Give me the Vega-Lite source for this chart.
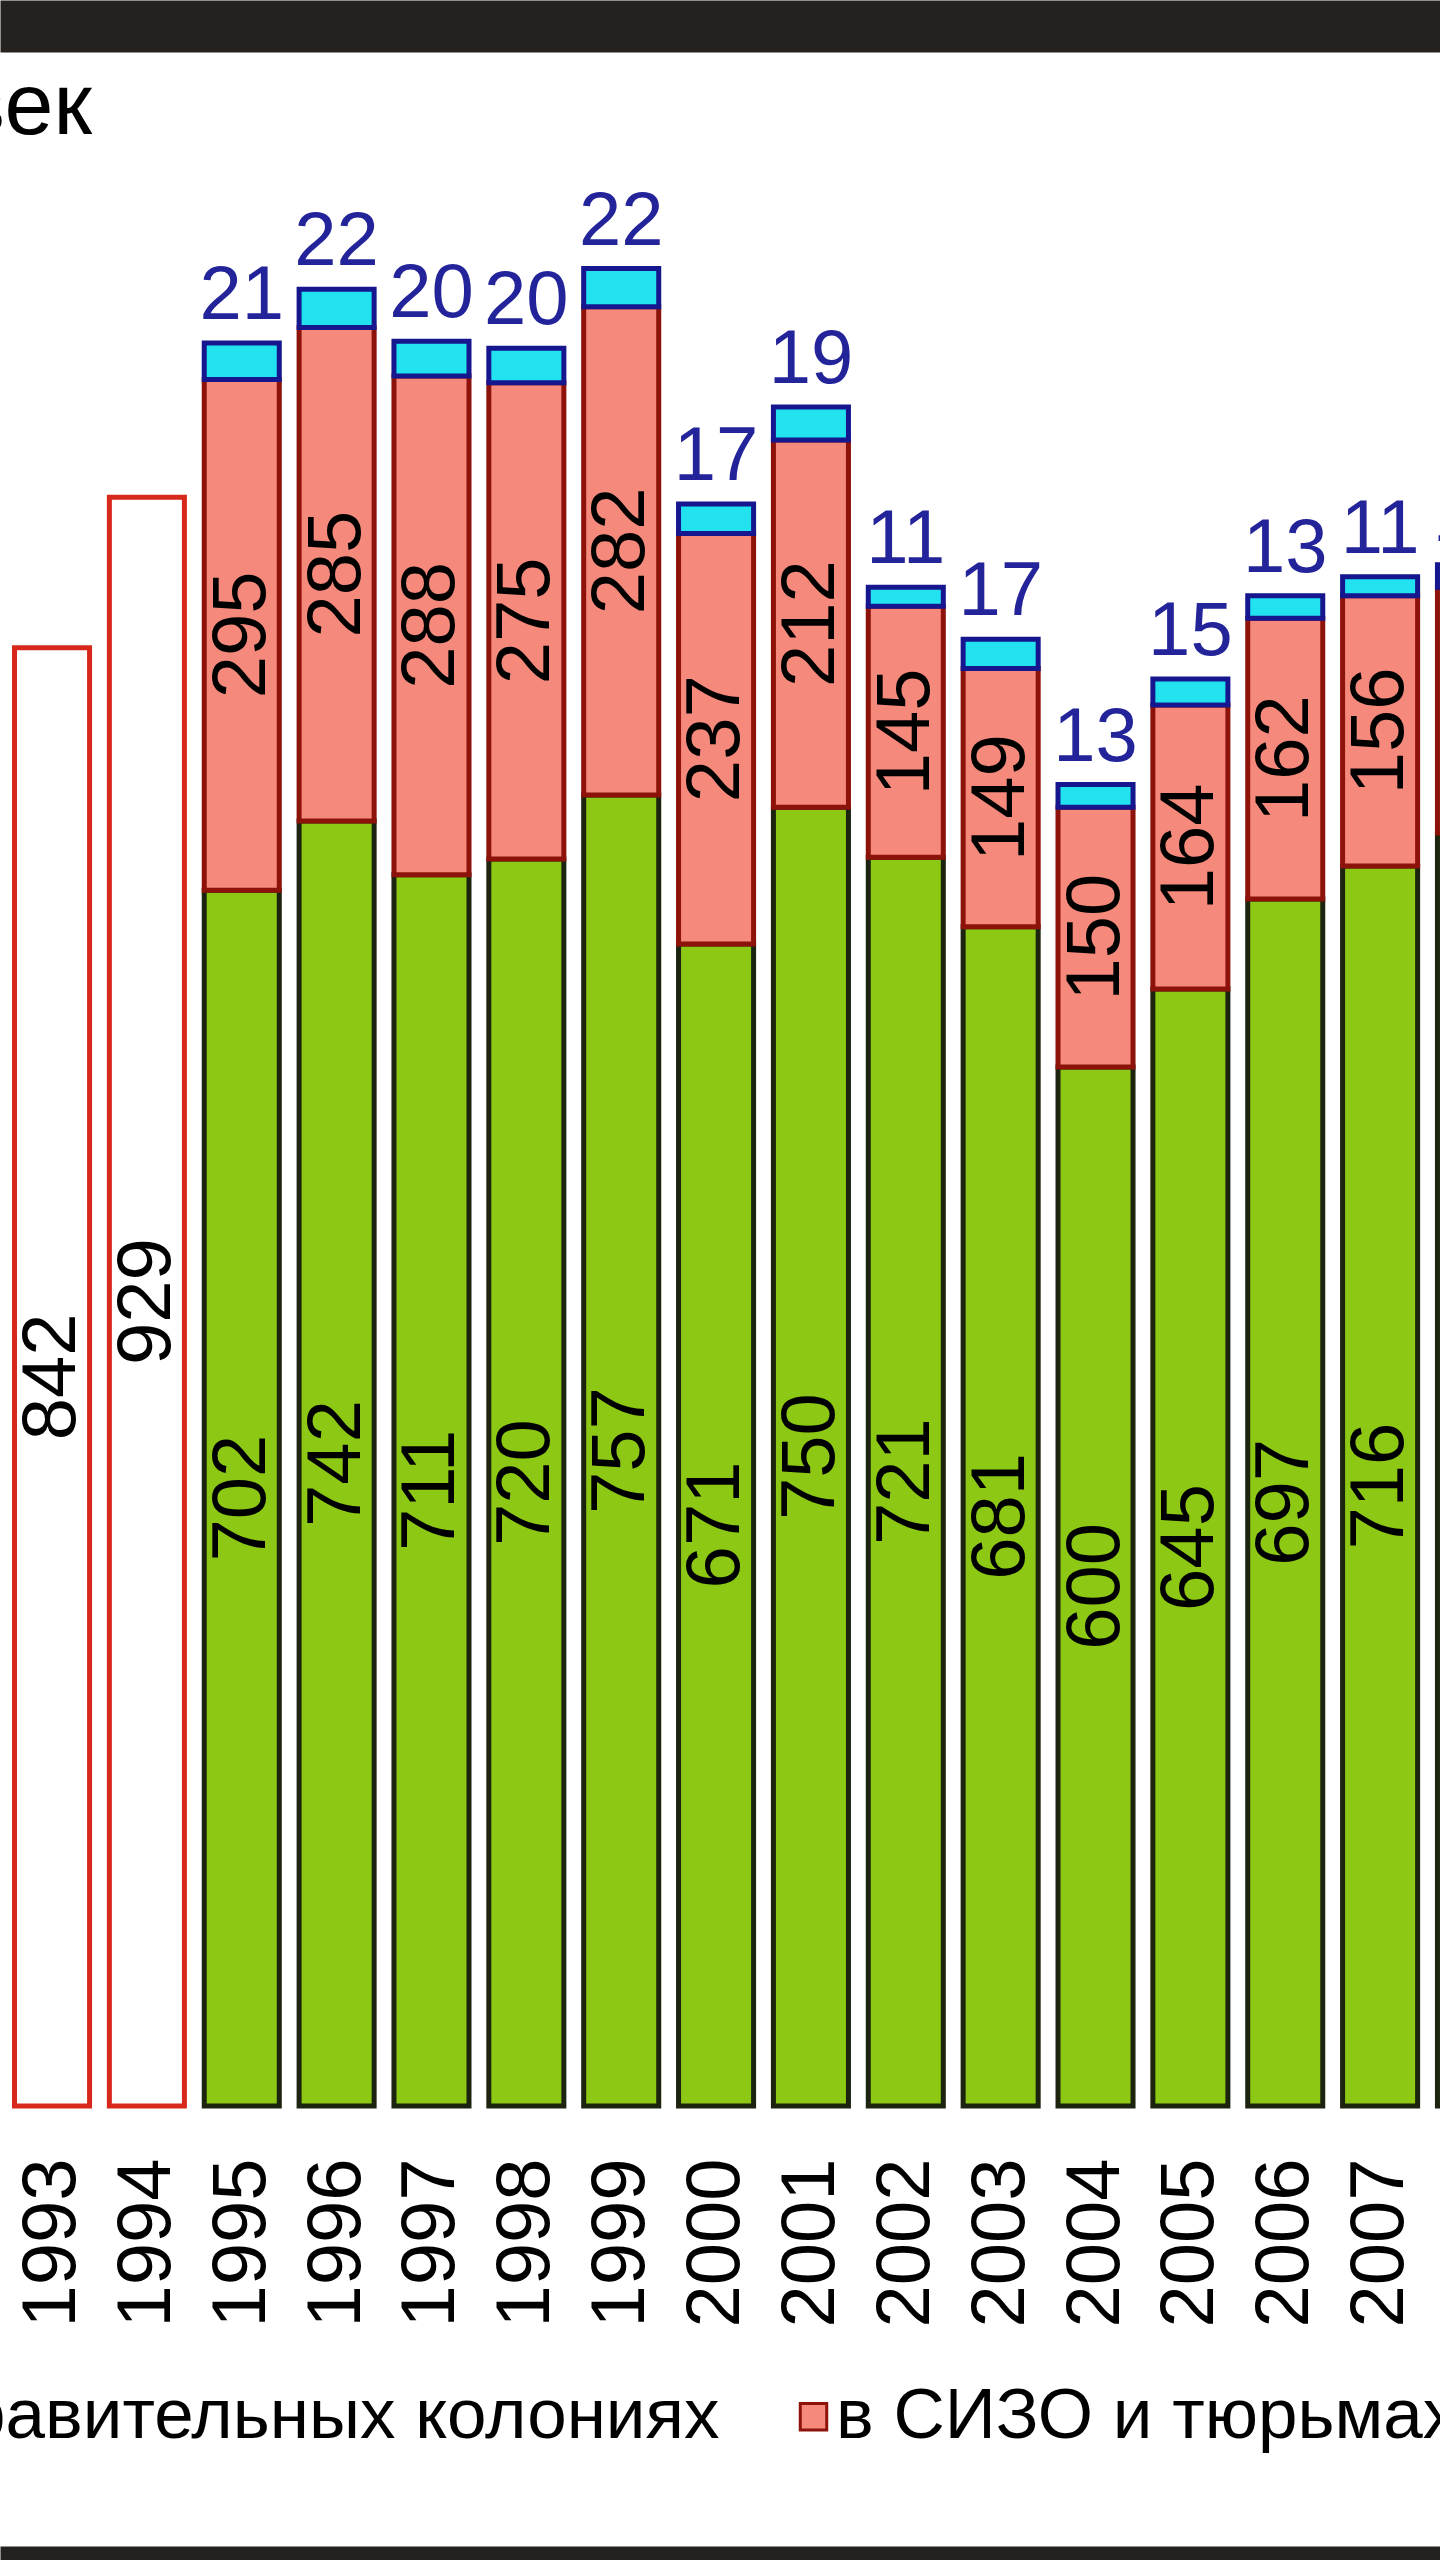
{
  "$schema": "https://vega.github.io/schema/vega-lite/v6.json",
  "width": 1440,
  "height": 1905,
  "autosize": {"type": "none"},
  "padding": {"left": 0, "top": 201, "right": 0, "bottom": 454},
  "background": "white",
  "config": {"view": {"stroke": null}, "font": "Liberation Sans"},
  "title": {"text": "тыс. человек", "orient": "top", "anchor": "start", "frame": "group", "align": "right", "dx": 92, "offset": -196, "baseline": "alphabetic", "fontSize": 88, "fontWeight": "normal", "color": "black", "font": "Liberation Sans"},
  "datasets": {
    "prison": [
      {"year": "1993", "cat": "всего", "k": 0, "v": 842},
      {"year": "1994", "cat": "всего", "k": 0, "v": 929},
      {"year": "1995", "cat": "в исправительных колониях", "k": 1, "v": 702},
      {"year": "1995", "cat": "в СИЗО и тюрьмах", "k": 2, "v": 295},
      {"year": "1995", "cat": "в воспитательных колониях", "k": 3, "v": 21},
      {"year": "1996", "cat": "в исправительных колониях", "k": 1, "v": 742},
      {"year": "1996", "cat": "в СИЗО и тюрьмах", "k": 2, "v": 285},
      {"year": "1996", "cat": "в воспитательных колониях", "k": 3, "v": 22},
      {"year": "1997", "cat": "в исправительных колониях", "k": 1, "v": 711},
      {"year": "1997", "cat": "в СИЗО и тюрьмах", "k": 2, "v": 288},
      {"year": "1997", "cat": "в воспитательных колониях", "k": 3, "v": 20},
      {"year": "1998", "cat": "в исправительных колониях", "k": 1, "v": 720},
      {"year": "1998", "cat": "в СИЗО и тюрьмах", "k": 2, "v": 275},
      {"year": "1998", "cat": "в воспитательных колониях", "k": 3, "v": 20},
      {"year": "1999", "cat": "в исправительных колониях", "k": 1, "v": 757},
      {"year": "1999", "cat": "в СИЗО и тюрьмах", "k": 2, "v": 282},
      {"year": "1999", "cat": "в воспитательных колониях", "k": 3, "v": 22},
      {"year": "2000", "cat": "в исправительных колониях", "k": 1, "v": 671},
      {"year": "2000", "cat": "в СИЗО и тюрьмах", "k": 2, "v": 237},
      {"year": "2000", "cat": "в воспитательных колониях", "k": 3, "v": 17},
      {"year": "2001", "cat": "в исправительных колониях", "k": 1, "v": 750},
      {"year": "2001", "cat": "в СИЗО и тюрьмах", "k": 2, "v": 212},
      {"year": "2001", "cat": "в воспитательных колониях", "k": 3, "v": 19},
      {"year": "2002", "cat": "в исправительных колониях", "k": 1, "v": 721},
      {"year": "2002", "cat": "в СИЗО и тюрьмах", "k": 2, "v": 145},
      {"year": "2002", "cat": "в воспитательных колониях", "k": 3, "v": 11},
      {"year": "2003", "cat": "в исправительных колониях", "k": 1, "v": 681},
      {"year": "2003", "cat": "в СИЗО и тюрьмах", "k": 2, "v": 149},
      {"year": "2003", "cat": "в воспитательных колониях", "k": 3, "v": 17},
      {"year": "2004", "cat": "в исправительных колониях", "k": 1, "v": 600},
      {"year": "2004", "cat": "в СИЗО и тюрьмах", "k": 2, "v": 150},
      {"year": "2004", "cat": "в воспитательных колониях", "k": 3, "v": 13},
      {"year": "2005", "cat": "в исправительных колониях", "k": 1, "v": 645},
      {"year": "2005", "cat": "в СИЗО и тюрьмах", "k": 2, "v": 164},
      {"year": "2005", "cat": "в воспитательных колониях", "k": 3, "v": 15},
      {"year": "2006", "cat": "в исправительных колониях", "k": 1, "v": 697},
      {"year": "2006", "cat": "в СИЗО и тюрьмах", "k": 2, "v": 162},
      {"year": "2006", "cat": "в воспитательных колониях", "k": 3, "v": 13},
      {"year": "2007", "cat": "в исправительных колониях", "k": 1, "v": 716},
      {"year": "2007", "cat": "в СИЗО и тюрьмах", "k": 2, "v": 156},
      {"year": "2007", "cat": "в воспитательных колониях", "k": 3, "v": 11},
      {"year": "2008", "cat": "в исправительных колониях", "k": 1, "v": 735},
      {"year": "2008", "cat": "в СИЗО и тюрьмах", "k": 2, "v": 142},
      {"year": "2008", "cat": "в воспитательных колониях", "k": 3, "v": 13}
    ]
  },
  "data": {"name": "prison"},
  "layer": [
    {
      "transform": [{"filter": {"field": "cat", "equal": "всего"}}],
      "mark": {"type": "bar", "fill": "white", "stroke": "#d8281c", "strokeWidth": 5},
      "encoding": {
        "x": {
          "field": "year", "type": "nominal",
          "scale": {"domain": ["1993","1994","1995","1996","1997","1998","1999","2000","2001","2002","2003","2004","2005","2006","2007","2008"], "range": [0, 1527], "paddingInner": 0.209, "paddingOuter": 0.153},
          "axis": {"orient": "bottom", "title": null, "labelAngle": 270, "labelFontSize": 76, "labelFont": "Liberation Sans", "labelColor": "black", "ticks": false, "tickSize": 0, "labelPadding": -397, "offset": 449, "domain": true, "domainColor": "#25211e", "domainWidth": 18, "grid": false}
        },
        "y": {
          "field": "v", "type": "quantitative",
          "scale": {"domain": [0, 1100], "nice": false},
          "axis": {"grid": true, "values": [0,100,200,300,400,500,600,700,800,900,1000,1100], "labels": false, "ticks": false, "domain": false, "title": null, "gridColor": "#aea28c", "gridWidth": 2}
        }
      }
    },
    {
      "transform": [{"filter": {"not": {"field": "cat", "equal": "всего"}}}],
      "mark": {"type": "bar", "strokeWidth": 5},
      "encoding": {
        "x": {
          "field": "year", "type": "nominal",
          "scale": {"domain": ["1993","1994","1995","1996","1997","1998","1999","2000","2001","2002","2003","2004","2005","2006","2007","2008"], "range": [0, 1527], "paddingInner": 0.209, "paddingOuter": 0.153},
          "axis": {"orient": "top", "title": null, "labels": false, "ticks": false, "offset": 175, "domain": true, "domainColor": "#25211e", "domainWidth": 52, "grid": false}
        },
        "y": {"field": "v", "type": "quantitative", "stack": "zero", "scale": {"domain": [0, 1100], "nice": false}, "axis": null},
        "color": {
          "field": "cat", "type": "nominal",
          "scale": {"domain": ["в исправительных колониях", "в СИЗО и тюрьмах", "в воспитательных колониях"], "range": ["#8cc814", "#f5897c", "#22e2f0"]},
          "legend": {"title": null, "orient": "none", "direction": "horizontal", "legendX": -263, "legendY": 2180, "symbolType": "square", "symbolSize": 700, "symbolStrokeWidth": 3, "symbolOpacity": 1, "labelFontSize": 71, "labelFont": "Liberation Sans", "labelColor": "black", "labelOffset": -13, "columnPadding": 58, "labelLimit": 2000, "padding": 0}
        },
        "stroke": {
          "field": "cat", "type": "nominal",
          "scale": {"domain": ["в исправительных колониях", "в СИЗО и тюрьмах", "в воспитательных колониях"], "range": ["#1c2410", "#8c120a", "#16168e"]}
        },
        "order": {"field": "k", "type": "quantitative"}
      }
    },
    {
      "transform": [
        {"stack": "v", "groupby": ["year"], "sort": [{"field": "k", "order": "ascending"}], "as": ["y0", "y1"]},
        {"filter": {"not": {"field": "cat", "equal": "в воспитательных колониях"}}},
        {"fold": ["y0", "y1"], "as": ["edge", "pos"]},
        {"aggregate": [{"op": "mean", "field": "pos", "as": "mid"}], "groupby": ["year", "cat", "v"]}
      ],
      "mark": {"type": "text", "angle": 270, "fontSize": 76, "font": "Liberation Sans", "color": "black", "align": "center", "baseline": "middle"},
      "encoding": {
        "x": {
          "field": "year", "type": "nominal",
          "scale": {"domain": ["1993","1994","1995","1996","1997","1998","1999","2000","2001","2002","2003","2004","2005","2006","2007","2008"], "range": [0, 1527], "paddingInner": 0.209, "paddingOuter": 0.153},
          "axis": null
        },
        "y": {"field": "mid", "type": "quantitative", "scale": {"domain": [0, 1100], "nice": false}, "axis": null},
        "text": {"field": "v", "type": "quantitative"}
      }
    },
    {
      "transform": [
        {"stack": "v", "groupby": ["year"], "sort": [{"field": "k", "order": "ascending"}], "as": ["y0", "y1"]},
        {"filter": {"field": "cat", "equal": "в воспитательных колониях"}}
      ],
      "mark": {"type": "text", "fontSize": 76, "font": "Liberation Sans", "color": "#23239a", "align": "center", "baseline": "alphabetic", "dy": -24},
      "encoding": {
        "x": {
          "field": "year", "type": "nominal",
          "scale": {"domain": ["1993","1994","1995","1996","1997","1998","1999","2000","2001","2002","2003","2004","2005","2006","2007","2008"], "range": [0, 1527], "paddingInner": 0.209, "paddingOuter": 0.153},
          "axis": null
        },
        "y": {"field": "y1", "type": "quantitative", "scale": {"domain": [0, 1100], "nice": false}, "axis": null},
        "text": {"field": "v", "type": "quantitative"}
      }
    }
  ],
  "resolve": {"axis": {"x": "independent"}}
}
